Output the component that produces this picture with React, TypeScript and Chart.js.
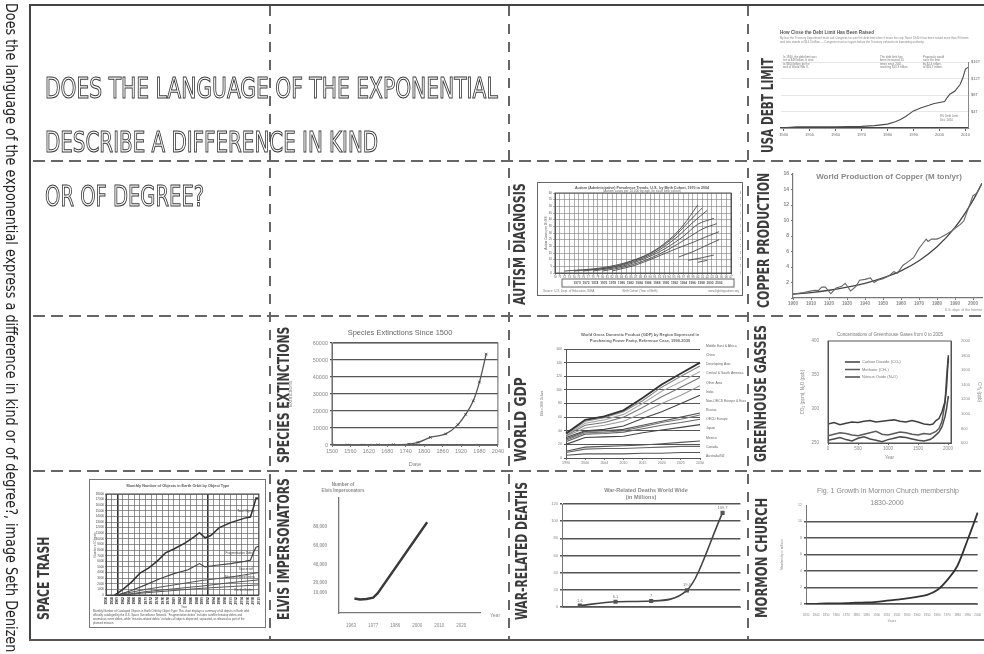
import React, { useEffect, useLayoutEffect, useRef } from 'react';
import { Chart, registerables } from 'chart.js';

Chart.register(...registerables);

const FONT = "'Liberation Sans', Arial, sans-serif";
const COND = "'Liberation Sans Narrow', 'DejaVu Sans Condensed', 'Roboto', 'Liberation Sans', sans-serif";
Chart.defaults.font.family = FONT;
Chart.defaults.color = '#777';

// ---------------- texts ----------------
const SIDE_TEXT = 'Does the language of the exponential express a difference in kind or of degree?, image Seth Denizen';
const HEADLINE = ['DOES THE LANGUAGE OF THE EXPONENTIAL', 'DESCRIBE A DIFFERENCE IN KIND', 'OR OF DEGREE?'];
const CELL_LABELS = ['USA DEBT LIMIT', 'COPPER PRODUCTION', 'AUTISM DIAGNOSIS', 'SPECIES EXTINCTIONS', 'WORLD GDP', 'GREENHOUSE GASSES', 'SPACE TRASH', 'ELVIS IMPERSONATORS', 'WAR-RELATED DEATHS', 'MORMON CHURCH'];

// ---------------- data ----------------
const DEBT_YEARS = [1940, 1945, 1950, 1955, 1960, 1965, 1970, 1975, 1980, 1983, 1985, 1987, 1990, 1993, 1996, 1998, 2002, 2003, 2004, 2006, 2008, 2009, 2010, 2011];
const DEBT_LIMIT = [0.049, 0.3, 0.275, 0.281, 0.295, 0.328, 0.395, 0.577, 0.935, 1.49, 2.079, 2.8, 4.145, 4.9, 5.5, 5.95, 6.4, 7.384, 8.184, 8.965, 10.615, 12.104, 14.294, 14.694];

const COPPER_YEARS = [1900, 1903, 1906, 1909, 1912, 1914, 1916, 1918, 1921, 1924, 1927, 1929, 1932, 1935, 1937, 1940, 1943, 1945, 1947, 1950, 1953, 1956, 1958, 1961, 1964, 1967, 1970, 1972, 1974, 1975, 1977, 1980, 1982, 1985, 1988, 1990, 1993, 1995, 1997, 2000, 2002, 2005];
const COPPER_ACTUAL = [0.5, 0.6, 0.7, 0.85, 1.0, 0.95, 1.4, 1.4, 0.55, 1.3, 1.5, 1.9, 0.9, 1.5, 2.3, 2.4, 2.6, 2.0, 2.3, 2.5, 2.8, 3.4, 3.2, 4.2, 4.7, 5.2, 6.4, 7.0, 7.6, 7.3, 7.6, 7.6, 7.8, 8.2, 8.6, 9.0, 9.5, 10.0, 11.3, 13.2, 13.5, 14.8];
const COPPER_TREND_YEARS = [1900, 1910, 1920, 1930, 1940, 1950, 1960, 1970, 1980, 1990, 2000, 2005];
const COPPER_TREND = [0.5, 0.7, 1.0, 1.4, 1.9, 2.6, 3.5, 4.8, 6.6, 9.1, 12.6, 14.8];

const AUTISM_COHORTS = [
  [[2, 0.3], [10, 0.8], [16, 1.8], [20, 3.0], [24, 5.0], [27, 7.2], [30, 10.2]],
  [[4, 0.3], [12, 0.9], [17, 2.0], [21, 3.3], [25, 5.4], [28, 7.6], [31, 9.8]],
  [[6, 0.3], [13, 1.0], [18, 2.1], [22, 3.5], [26, 5.6], [29, 7.6], [32, 9.4]],
  [[8, 0.3], [14, 1.0], [19, 2.2], [23, 3.6], [27, 5.5], [30, 7.3], [33.4, 8.2]],
  [[10, 0.3], [15, 1.0], [20, 2.2], [24, 3.6], [28, 5.3], [31, 6.6], [34, 7.4]],
  [[12, 0.3], [17, 1.2], [21, 2.3], [25, 3.5], [29, 4.6], [32, 5.5], [34.5, 6.2]],
  [[26, 2.4], [29, 3.2], [32, 4.2], [34.5, 5.0]],
  [[28, 1.9], [31, 2.3], [33.4, 2.7]],
  [[30, 1.6], [32, 1.9]],
];

const SPECIES_YEARS = [1500, 1550, 1600, 1650, 1700, 1750, 1780, 1820, 1870, 1910, 1935, 1960, 1980, 2002];
const SPECIES_COUNT = [0, 0, 0, 100, 200, 500, 1500, 4500, 6500, 12000, 18000, 26000, 37000, 53500];

const GDP_YEARS = ['1990', '2000', '2004', '2010', '2015', '2020', '2025', '2030'];
const GDP_REGIONS = ['Middle East & Africa', 'China', 'Developing Asia', 'Central & South America', 'Other Asia', 'India', 'Non-OECD Europe & Eurasia', 'Russia', 'OECD Europe', 'Japan', 'Mexico', 'Canada', 'Australia/NZ'];
const GDP_SERIES = [
  [36, 56, 61, 70, 88, 108, 124, 140],
  [35, 54, 59, 68, 84, 104, 120, 135],
  [34, 51, 56, 64, 80, 98, 112, 127],
  [33, 48, 52, 60, 74, 90, 104, 118],
  [32, 44, 48, 54, 66, 80, 92, 106],
  [30, 40, 42, 47, 58, 68, 80, 92],
  [28, 39, 40, 42, 48, 54, 60, 66],
  [26, 37, 38, 40, 46, 52, 57, 63],
  [24, 35, 36, 38, 43, 48, 52, 57],
  [20, 30, 31, 32, 37, 41, 45, 49],
  [10, 16, 17, 18, 19, 21, 23, 25],
  [8, 13, 14, 14, 15, 16, 17, 17],
  [4, 6, 6, 6, 7, 7, 8, 8],
];

const GHG_YEARS = [0, 100, 200, 300, 400, 500, 600, 700, 800, 900, 1000, 1100, 1200, 1300, 1400, 1500, 1600, 1700, 1750, 1800, 1850, 1900, 1950, 1975, 2000, 2005];
const GHG_CO2 = [278, 280, 277, 279, 281, 280, 282, 283, 281, 282, 283, 284, 282, 281, 283, 281, 278, 277, 278, 283, 286, 296, 311, 331, 369, 379];
const GHG_CH4 = [700, 720, 740, 730, 710, 700, 720, 740, 760, 720, 710, 730, 750, 740, 720, 710, 730, 720, 740, 760, 800, 900, 1150, 1480, 1750, 1775];
const GHG_N2O = [254, 256, 258, 255, 253, 257, 259, 256, 254, 252, 255, 257, 259, 258, 256, 254, 253, 255, 258, 262, 266, 274, 289, 300, 316, 319];
const GHG_X_TICKS = [0, 500, 1000, 1500, 2000];

const TRASH_TOTAL = [[1959, 0], [1960, 0.3], [1962, 1], [1965, 2.3], [1968, 3.9], [1971, 4.8], [1974, 6], [1977, 7.5], [1980, 8.2], [1984, 9.3], [1987, 10.3], [1989, 11.1], [1991, 10.2], [1993, 10.6], [1996, 12], [2000, 12.9], [2005, 13.7], [2007, 13.9], [2008, 15.5], [2009, 17.3], [2010, 17.2]];
const TRASH_FRAGMENTS = [[1960, 0], [1965, 0.8], [1970, 1.8], [1975, 2.9], [1980, 3.8], [1985, 4.5], [1989, 5.6], [1991, 5], [1995, 5.3], [2000, 5.6], [2005, 6], [2007, 6.2], [2008, 7.5], [2009, 8.5], [2010, 8.7]];
const TRASH_SPACECRAFT = [[1960, 0], [1970, 1], [1980, 1.8], [1990, 2.6], [2000, 3.2], [2010, 4]];
const TRASH_MISSION = [[1962, 0], [1970, 0.6], [1980, 1.1], [1990, 1.6], [2000, 2.2], [2010, 2.7]];
const TRASH_ROCKETS = [[1962, 0], [1970, 0.4], [1980, 0.8], [1990, 1.2], [2000, 1.5], [2010, 1.8]];

const ELVIS_X_LABELS = ['1963', '1977', '1986', '2000', '2010', '2020'];
const ELVIS_X = [0.15, 0.4, 0.7, 1.0, 1.2, 3.45];
const ELVIS_COUNT = [3500, 2500, 3000, 4500, 9000, 85000];
const ELVIS_Y_TICKS = [10000, 20000, 40000, 60000, 80000];

const WAR_PERIODS = ['1500-1599', '1600-1699', '1700-1799', '1800-1899', '1900-1999'];
const WAR_DEATHS = [1.6, 6.1, 7.0, 19.4, 109.7];

const MORMON_YEARS = ['1830', '1840', '1850', '1860', '1870', '1880', '1890', '1900', '1910', '1920', '1930', '1940', '1950', '1960', '1970', '1980', '1990', '2000'];
const MORMON_MEMBERS = [0.0003, 0.017, 0.06, 0.06, 0.09, 0.16, 0.19, 0.27, 0.4, 0.53, 0.67, 0.86, 1.11, 1.69, 2.93, 4.64, 7.76, 11.07];

// ---------------- helpers ----------------
const toXY = (xs: number[], ys: number[]) => xs.map((x, i) => ({ x, y: ys[i] }));
const pairs = (p: number[][]) => p.map(([x, y]) => ({ x, y }));
const W = (w: number) => (s: any) => { s.width = w; };
const H = (h: number) => (s: any) => { s.height = h; };
const f = (size: number, bold = false) => ({ size, weight: bold ? 'bold' : 'normal', family: FONT });

const notesPlugin = {
  id: 'notes',
  afterDraw(chart: any, _a: any, o: any) {
    const ctx = chart.ctx;
    const ox = o.ox || 0;
    const oy = o.oy || 0;
    const a = chart.chartArea;
    ctx.save();
    if (o.border) {
      ctx.strokeStyle = o.border;
      ctx.lineWidth = o.borderWidth || 1;
      ctx.strokeRect(a.left, a.top, a.right - a.left, a.bottom - a.top);
    }
    if (o.valueLabels) {
      const meta = chart.getDatasetMeta(0);
      const ds = chart.data.datasets[0].data;
      ctx.font = `${o.valueLabels.size}px ${FONT}`;
      ctx.fillStyle = o.valueLabels.color;
      ctx.textAlign = 'center';
      ctx.textBaseline = 'bottom';
      meta.data.forEach((p: any, i: number) => ctx.fillText(String(ds[i]), p.x, p.y - 3));
    }
    if (o.sideLegend) {
      const s = o.sideLegend;
      const n = chart.data.datasets.length;
      ctx.font = `${s.size}px ${FONT}`;
      ctx.fillStyle = s.color;
      ctx.textAlign = 'left';
      ctx.textBaseline = 'middle';
      chart.data.datasets.forEach((d: any, i: number) => {
        const y = s.top - oy + ((s.bottom - s.top) * i) / (n - 1);
        ctx.fillText(d.label, s.x - ox, y);
      });
    }
    if (o.insideLegend) {
      const s = o.insideLegend;
      chart.data.datasets.forEach((d: any, i: number) => {
        const y = s.y - oy + i * s.dy;
        ctx.strokeStyle = d.borderColor;
        ctx.lineWidth = d.borderWidth;
        ctx.beginPath();
        ctx.moveTo(s.x - ox, y);
        ctx.lineTo(s.x - ox + s.w, y);
        ctx.stroke();
        ctx.fillStyle = s.color;
        ctx.font = `${s.size}px ${FONT}`;
        ctx.textAlign = 'left';
        ctx.textBaseline = 'middle';
        ctx.fillText(d.label, s.x - ox + s.w + 2, y);
      });
    }
    for (const it of o.items || []) {
      if (it.rect) {
        ctx.strokeStyle = it.color || '#777';
        ctx.lineWidth = it.lw || 1;
        ctx.strokeRect(it.rect[0] - ox, it.rect[1] - oy, it.rect[2], it.rect[3]);
        continue;
      }
      ctx.save();
      ctx.font = `${it.bold ? 'bold ' : ''}${it.size || 5}px ${FONT}`;
      ctx.fillStyle = it.color || '#888';
      ctx.textAlign = it.align || 'center';
      ctx.textBaseline = 'middle';
      ctx.translate(it.x - ox, it.y - oy);
      if (it.rot) ctx.rotate((it.rot * Math.PI) / 180);
      ctx.fillText(it.text, 0, 0);
      ctx.restore();
    }
    ctx.restore();
  },
};

function Mini({ box, make }: { box: number[]; make: () => any }) {
  const ref = useRef<HTMLCanvasElement>(null);
  useEffect(() => {
    const cfg = make();
    cfg.options = cfg.options || {};
    cfg.options.responsive = false;
    cfg.options.animation = false;
    cfg.options.devicePixelRatio = 1;
    cfg.options.plugins = { legend: { display: false }, tooltip: { enabled: false }, ...(cfg.options.plugins || {}) };
    cfg.options.plugins.notes = { ...(cfg.options.plugins.notes || {}), ox: box[0], oy: box[1] };
    cfg.plugins = [notesPlugin];
    const c = new Chart(ref.current as HTMLCanvasElement, cfg);
    return () => c.destroy();
  }, []);
  return (
    <canvas
      ref={ref}
      width={box[2]}
      height={box[3]}
      style={{ position: 'absolute', left: box[0], top: box[1], width: box[2], height: box[3] }}
    />
  );
}

function Txt({ text, x, y, len, size, rot = 0, color = '#333', weight = 400, family = COND, stroke }: any) {
  const ref = useRef<HTMLSpanElement>(null);
  useLayoutEffect(() => {
    const el = ref.current;
    if (!el) return;
    const w = el.offsetWidth;
    if (w > 0) el.style.transform = `scaleX(${len / w})`;
  }, [len, text]);
  const base: any = {
    position: 'absolute', whiteSpace: 'nowrap', fontSize: size, lineHeight: `${size}px`, height: size,
    fontFamily: family, fontWeight: weight, color, transformOrigin: '0 0', willChange: 'transform', opacity: 0.999,
  };
  if (stroke) {
    base.color = '#fff';
    base.WebkitTextStroke = stroke;
  }
  const k = size * 0.49;
  let pos: any;
  if (rot === -90) pos = { left: x - k, top: y, transform: 'rotate(-90deg)' };
  else if (rot === 90) pos = { left: x + k, top: y, transform: 'rotate(90deg)' };
  else pos = { left: x, top: y - k, transform: 'translateZ(0)' };
  return (
    <div style={{ ...base, ...pos }}>
      <span ref={ref} style={{ display: 'inline-block', transformOrigin: '0 0' }}>{text}</span>
    </div>
  );
}

function Dash({ x, y, len, vertical }: any) {
  const st: any = vertical
    ? { left: x - 0.9, top: y, width: 1.8, height: len, backgroundImage: 'repeating-linear-gradient(to bottom, #666 0 10px, transparent 10px 18px)' }
    : { left: x, top: y - 0.9, width: len, height: 1.8, backgroundImage: 'repeating-linear-gradient(to right, #666 0 12px, transparent 12px 18px)' };
  return <div style={{ position: 'absolute', ...st }} />;
}

// ---------------- chart configs ----------------
const debtConfig = () => ({
  type: 'line',
  data: { datasets: [{ data: toXY(DEBT_YEARS, DEBT_LIMIT), borderColor: '#4a4a4a', borderWidth: 1.1, pointRadius: 0 }] },
  options: {
    layout: { padding: { left: 5, right: 2, top: 34, bottom: 0 } },
    scales: {
      x: {
        type: 'linear', min: 1939, max: 2011, afterFit: H(10),
        ticks: { stepSize: 10, includeBounds: false, font: f(4), color: '#666', maxRotation: 0, padding: 1, callback: (v: any) => String(v) },
        grid: { drawOnChartArea: false, tickLength: 3, color: '#666' }, border: { color: '#444', width: 1.5 },
      },
      y: {
        position: 'right', min: 0, max: 16, afterFit: W(14),
        ticks: { stepSize: 4, font: f(4), color: '#666', padding: 1, callback: (v: any) => (v ? '$' + v + 'T' : '') },
        grid: { color: '#e6e6e6', tickLength: 2 }, border: { color: '#888' },
      },
    },
    plugins: {
      notes: {
        items: [
          { x: 780, y: 33, text: 'How Close the Debt Limit Has Been Raised', size: 4.6, bold: true, align: 'left', color: '#555' },
          { x: 780, y: 38.5, text: 'By law, the Treasury Department must ask Congress to raise the debt limit when it nears the cap. Since 1940 it has been raised more than 90 times', size: 2.9, align: 'left', color: '#888' },
          { x: 780, y: 42.5, text: 'and now stands at $14.3 trillion \u2014 Congress must act again before the Treasury exhausts its borrowing authority.', size: 2.9, align: 'left', color: '#888' },
          { x: 783, y: 57, text: 'In 1940, the debt limit was', size: 2.9, align: 'left', color: '#777' },
          { x: 783, y: 60.5, text: 'set at $49 billion. It rose', size: 2.9, align: 'left', color: '#777' },
          { x: 783, y: 64, text: 'to $300 billion by the', size: 2.9, align: 'left', color: '#777' },
          { x: 783, y: 67.5, text: 'end of World War II.', size: 2.9, align: 'left', color: '#777' },
          { x: 880, y: 57, text: 'The debt limit has', size: 2.9, align: 'left', color: '#777' },
          { x: 880, y: 60.5, text: 'been increased 10', size: 2.9, align: 'left', color: '#777' },
          { x: 880, y: 64, text: 'times since 2001,', size: 2.9, align: 'left', color: '#777' },
          { x: 880, y: 67.5, text: 'reaching $14.3 trillion.', size: 2.9, align: 'left', color: '#777' },
          { x: 923, y: 57, text: 'Proposals would', size: 2.9, align: 'left', color: '#777' },
          { x: 923, y: 60.5, text: 'raise the limit', size: 2.9, align: 'left', color: '#777' },
          { x: 923, y: 64, text: 'by $2.4 trillion,', size: 2.9, align: 'left', color: '#777' },
          { x: 923, y: 67.5, text: 'to $16.7 trillion.', size: 2.9, align: 'left', color: '#777' },
          { x: 940, y: 116, text: '8% Debt Limit', size: 2.9, align: 'left', color: '#777' },
          { x: 940, y: 120, text: 'Dec. 2010', size: 2.9, align: 'left', color: '#777' },
        ],
      },
    },
  },
});

const copperConfig = () => ({
  type: 'line',
  data: {
    datasets: [
      { data: toXY(COPPER_YEARS, COPPER_ACTUAL), borderColor: '#666', borderWidth: 1.1, pointRadius: 0 },
      { data: toXY(COPPER_TREND_YEARS, COPPER_TREND), borderColor: '#444', borderWidth: 1.3, pointRadius: 0, cubicInterpolationMode: 'monotone' },
    ],
  },
  options: {
    layout: { padding: { left: 0, right: 2, top: 8, bottom: 0 } },
    scales: {
      x: {
        type: 'linear', min: 1900, max: 2005, afterFit: H(16),
        ticks: { stepSize: 10, includeBounds: false, autoSkip: false, font: f(4.5, true), color: '#888', maxRotation: 0, padding: 1, callback: (v: any) => String(v) },
        grid: { drawOnChartArea: false, tickLength: 2, color: '#777' }, border: { color: '#777', width: 1.2 },
      },
      y: {
        min: 0, max: 16, afterFit: W(17),
        ticks: { stepSize: 2, font: f(5, true), color: '#888', padding: 2, callback: (v: any) => (v ? String(v) : '') },
        grid: { drawOnChartArea: false, tickLength: 2, color: '#777' }, border: { color: '#777', width: 1.2 },
      },
    },
    plugins: {
      notes: {
        items: [
          { x: 889, y: 177, text: 'World Production of Copper (M ton/yr)', size: 8, bold: true, color: '#888' },
          { x: 982, y: 310.5, text: 'U.S. dept. of the Interior', size: 3.5, align: 'right', color: '#888' },
        ],
      },
    },
  },
});

const autismConfig = () => ({
  type: 'line',
  data: {
    datasets: AUTISM_COHORTS.map((c) => ({ data: pairs(c), borderColor: '#4a4a4a', borderWidth: 0.9, pointRadius: 0, cubicInterpolationMode: 'monotone' })),
  },
  options: {
    layout: { padding: { left: 0, right: 1, top: 8, bottom: 0 } },
    scales: {
      x: {
        type: 'linear', min: 0, max: 37, afterFit: H(22),
        ticks: { stepSize: 1, autoSkip: false, font: f(2.8), color: '#555', maxRotation: 0, padding: 1, callback: (v: any) => String((70 + v) % 100).padStart(2, '0') },
        grid: { color: '#7a7a7a', lineWidth: 0.6, tickLength: 2 }, border: { color: '#555' },
      },
      y: {
        min: 0, max: 12, afterFit: W(15),
        ticks: { stepSize: 1, autoSkip: false, font: f(3), color: '#555', padding: 1, callback: (v: any) => String(v * 5) },
        grid: { color: '#7a7a7a', lineWidth: 0.6, tickLength: 2 }, border: { color: '#555' },
      },
      y2: {
        position: 'right', min: 0, max: 12, afterFit: W(10),
        ticks: { stepSize: 1, autoSkip: false, font: f(3), color: '#555', padding: 1, callback: (v: any) => String(v * 5) },
        grid: { display: false }, border: { color: '#555' },
      },
    },
    plugins: {
      notes: {
        border: '#555',
        items: [
          { x: 642, y: 187.5, text: 'Autism (Administrative) Prevalence Trends, U.S., by Birth Cohort, 1970 to 2004', size: 3.6, bold: true, color: '#555' },
          { x: 642, y: 191.5, text: '(Autism cases per 10,000 by age, for each birth cohort)', size: 3.2, color: '#666' },
          { x: 546, y: 233, text: 'Autism Cases per 10,000', size: 3, rot: -90, color: '#666' },
          { rect: [562, 279, 172, 8], color: '#666', lw: 1 },
          { x: 648, y: 283, text: '1970  1972  1974  1976  1978  1980  1982  1984  1986  1988  1990  1992  1994  1996  1998  2000  2002', size: 3.2, bold: true, color: '#555' },
          { x: 543, y: 291, text: 'Source: U.S. Dept. of Education, IDEA', size: 3, align: 'left', color: '#777' },
          { x: 640, y: 291, text: 'Birth Cohort (Year of Birth)', size: 3, color: '#777' },
          { x: 739, y: 291, text: 'www.fightingautism.org', size: 3, align: 'right', color: '#777' },
        ],
      },
    },
  },
});

const speciesConfig = () => ({
  type: 'line',
  data: {
    datasets: [{
      data: toXY(SPECIES_YEARS, SPECIES_COUNT), borderColor: '#555', borderWidth: 1.3, cubicInterpolationMode: 'monotone',
      pointStyle: 'crossRot', pointRadius: 1.8, pointBorderColor: '#333', pointBorderWidth: 0.8,
    }],
  },
  options: {
    layout: { padding: { left: 0, right: 3, top: 21, bottom: 0 } },
    scales: {
      x: {
        type: 'linear', min: 1500, max: 2040, afterFit: H(23),
        ticks: { stepSize: 60, autoSkip: false, font: f(5.5), color: '#888', maxRotation: 0, padding: 1, callback: (v: any) => String(v) },
        grid: { drawOnChartArea: false, tickLength: 2, color: '#777' }, border: { color: '#777' },
        title: { display: true, text: 'Date', font: f(6), color: '#888', padding: 0 },
      },
      y: {
        min: 0, max: 60000, afterFit: W(45),
        ticks: { stepSize: 10000, font: f(5.5), color: '#888', padding: 2, callback: (v: any) => String(v) },
        grid: { color: '#555', lineWidth: 1.3, tickLength: 2 }, border: { color: '#777' },
        title: { display: true, text: 'Extinctions', font: f(5.5), color: '#888', padding: 0 },
      },
    },
    plugins: { notes: { border: '#666', items: [{ x: 400, y: 333, text: 'Species Extinctions Since 1500', size: 7.5, color: '#666' }] } },
  },
});

const GDP_COLORS = ['#333', '#888', '#aaa', '#777', '#999', '#444', '#555', '#777', '#666', '#444', '#555', '#666', '#555'];
const gdpConfig = () => ({
  type: 'line',
  data: {
    labels: GDP_YEARS,
    datasets: GDP_SERIES.map((s, i) => ({ label: GDP_REGIONS[i], data: s, borderColor: GDP_COLORS[i], borderWidth: i === 0 ? 1.8 : 1.1, pointRadius: 0 })),
  },
  options: {
    layout: { padding: { left: 0, right: 46, top: 21, bottom: 0 } },
    scales: {
      x: {
        offset: false, afterFit: H(12),
        ticks: { font: f(3.5), color: '#777', maxRotation: 0, autoSkip: false, padding: 1 },
        grid: { drawOnChartArea: false, tickLength: 2, color: '#777' }, border: { color: '#555' },
      },
      y: {
        min: 0, max: 160, afterFit: W(26),
        ticks: { stepSize: 20, font: f(3.5), color: '#777', padding: 2 },
        grid: { color: '#555', lineWidth: 1, tickLength: 2 }, border: { color: '#555' },
        title: { display: true, text: 'Billion 2000 Dollars', font: f(3), color: '#777', padding: 0 },
      },
    },
    plugins: {
      notes: {
        sideLegend: { x: 706, top: 346, bottom: 456, size: 3.4, color: '#666' },
        items: [
          { x: 640, y: 334.5, text: 'World Gross Domestic Product (GDP) by Region Expressed in', size: 4, bold: true, color: '#666' },
          { x: 640, y: 340.5, text: 'Purchasing Power Parity, Reference Case, 1990-2030', size: 4, bold: true, color: '#666' },
        ],
      },
    },
  },
});

const ghgConfig = () => ({
  type: 'line',
  data: {
    datasets: [
      { label: 'Carbon Dioxide (CO\u2082)', data: toXY(GHG_YEARS, GHG_CO2), borderColor: '#3f3f3f', borderWidth: 1.5, pointRadius: 0, yAxisID: 'y' },
      { label: 'Methane (CH\u2084)', data: toXY(GHG_YEARS, GHG_CH4), borderColor: '#5a5a5a', borderWidth: 1.5, pointRadius: 0, yAxisID: 'y1' },
      { label: 'Nitrous Oxide (N\u2082O)', data: toXY(GHG_YEARS, GHG_N2O), borderColor: '#4a4a4a', borderWidth: 1.5, pointRadius: 0, yAxisID: 'y' },
    ],
  },
  options: {
    layout: { padding: { left: 0, right: 0, top: 13, bottom: 0 } },
    scales: {
      x: {
        type: 'linear', min: 0, max: 2050, afterFit: H(17),
        afterBuildTicks: (s: any) => { s.ticks = GHG_X_TICKS.map((v) => ({ value: v })); },
        ticks: { font: f(4.5), color: '#888', maxRotation: 0, padding: 1, callback: (v: any) => String(v) },
        grid: { drawOnChartArea: false, tickLength: 2, color: '#777' }, border: { color: '#555' },
        title: { display: true, text: 'Year', font: f(4.5), color: '#888', padding: 0 },
      },
      y: {
        min: 250, max: 400, afterFit: W(28),
        ticks: { stepSize: 50, font: f(4.5), color: '#888', padding: 1 },
        grid: { display: false }, border: { color: '#555' },
        title: { display: true, text: 'CO\u2082 (ppm), N\u2082O (ppb)', font: f(4.5), color: '#888', padding: 0 },
      },
      y1: {
        position: 'right', min: 600, max: 2000, afterFit: W(31),
        ticks: { stepSize: 200, font: f(4), color: '#888', padding: 2, callback: (v: any) => String(v) },
        grid: { display: false }, border: { color: '#555' },
        title: { display: true, text: 'CH\u2084 (ppb)', font: f(4.5), color: '#888', padding: 0 },
      },
    },
    plugins: {
      notes: {
        border: '#555',
        insideLegend: { x: 845, y: 362, dy: 7.5, w: 15, size: 4, color: '#777' },
        items: [{ x: 890, y: 335, text: 'Concentrations of Greenhouse Gases from 0 to 2005', size: 4.5, color: '#777' }],
      },
    },
  },
});

const trashConfig = () => ({
  type: 'line',
  data: {
    datasets: [
      { data: pairs(TRASH_TOTAL), borderColor: '#333', borderWidth: 1.5, pointRadius: 0 },
      { data: pairs(TRASH_FRAGMENTS), borderColor: '#444', borderWidth: 1.2, pointRadius: 0 },
      { data: pairs(TRASH_SPACECRAFT), borderColor: '#555', borderWidth: 1, pointRadius: 0 },
      { data: pairs(TRASH_MISSION), borderColor: '#555', borderWidth: 1, pointRadius: 0 },
      { data: pairs(TRASH_ROCKETS), borderColor: '#555', borderWidth: 1, pointRadius: 0 },
    ],
  },
  options: {
    layout: { padding: { left: 0, right: 2, top: 12, bottom: 0 } },
    scales: {
      x: {
        type: 'linear', min: 1956, max: 2010, afterFit: H(31),
        ticks: { stepSize: 2, autoSkip: false, font: f(3.4, true), color: '#222', minRotation: 90, maxRotation: 90, padding: 1, callback: (v: any) => String(v) },
        grid: { color: (c: any) => (c.tick && (c.tick.value === 1960 || c.tick.value === 1992) ? '#333' : '#666'), lineWidth: (c: any) => (c.tick && (c.tick.value === 1960 || c.tick.value === 1992) ? 1.6 : 0.7), tickLength: 1 },
        border: { color: '#444' },
      },
      y: {
        min: 0, max: 18, afterFit: W(14),
        ticks: { stepSize: 1, autoSkip: false, font: f(3), color: '#444', padding: 1, callback: (v: any) => String(v * 1000) },
        grid: { color: '#666', lineWidth: 0.7, tickLength: 1 }, border: { color: '#444' },
      },
    },
    plugins: {
      notes: {
        border: '#444',
        items: [
          { x: 178, y: 486, text: 'Monthly Number of Objects in Earth Orbit by Object Type', size: 3.8, bold: true, color: '#555' },
          { x: 95.5, y: 545, text: 'Number of Objects', size: 3, rot: -90, color: '#666' },
          { x: 184, y: 607, text: 'Year', size: 3, color: '#555' },
          { x: 246, y: 511, text: 'Total Objects', size: 3, color: '#444' },
          { x: 240, y: 553, text: 'Fragmentation Debris', size: 3, color: '#444' },
          { x: 246, y: 569, text: 'Spacecraft', size: 3, color: '#444' },
          { x: 240, y: 577, text: 'Mission-related Debris', size: 3, color: '#444' },
          { x: 244, y: 590, text: 'Rocket Bodies', size: 3, color: '#444' },
          { x: 93, y: 611, text: 'Monthly Number of Cataloged Objects in Earth Orbit by Object Type: This chart displays a summary of all objects in Earth orbit', size: 2.8, align: 'left', color: '#555' },
          { x: 93, y: 615, text: 'officially cataloged by the U.S. Space Surveillance Network. "Fragmentation debris" includes satellite breakup debris and', size: 2.8, align: 'left', color: '#555' },
          { x: 93, y: 619, text: 'anomalous event debris, while "mission-related debris" includes all objects dispersed, separated, or released as part of the', size: 2.8, align: 'left', color: '#555' },
          { x: 93, y: 623, text: 'planned mission.', size: 2.8, align: 'left', color: '#555' },
        ],
      },
    },
  },
});

const elvisConfig = () => ({
  type: 'line',
  data: { datasets: [{ data: toXY(ELVIS_X, ELVIS_COUNT), borderColor: '#3a3a3a', borderWidth: 2.4, pointRadius: 0 }] },
  options: {
    layout: { padding: { left: 0, right: 25, top: 20, bottom: 0 } },
    scales: {
      x: {
        type: 'linear', min: -0.55, max: 5.85, afterFit: H(15),
        ticks: { stepSize: 1, includeBounds: false, font: f(4.5), color: '#888', maxRotation: 0, padding: 2, callback: (v: any) => ELVIS_X_LABELS[v] ?? '' },
        grid: { display: false }, border: { color: '#777', width: 1.3 },
      },
      y: {
        min: -12000, max: 111000, afterFit: W(39),
        afterBuildTicks: (s: any) => { s.ticks = ELVIS_Y_TICKS.map((v) => ({ value: v })); },
        ticks: { font: f(4.5, true), color: '#999', padding: 4, callback: (v: any) => Number(v).toLocaleString('en-US') },
        grid: { display: false }, border: { color: '#777', width: 1.3 },
      },
    },
    plugins: {
      notes: {
        items: [
          { x: 343, y: 485, text: 'Number of', size: 4.5, bold: true, color: '#888' },
          { x: 343, y: 491, text: 'Elvis Impersonators', size: 4.5, bold: true, color: '#888' },
          { x: 495, y: 616, text: 'Year', size: 5, color: '#888' },
        ],
      },
    },
  },
});

const warConfig = () => ({
  type: 'line',
  data: {
    labels: WAR_PERIODS,
    datasets: [{
      data: WAR_DEATHS, borderColor: '#444', borderWidth: 1.6, cubicInterpolationMode: 'monotone',
      pointStyle: 'rect', pointRadius: 1.8, pointBackgroundColor: '#555', pointBorderColor: '#555',
    }],
  },
  options: {
    layout: { padding: { left: 0, right: 4, top: 21, bottom: 0 } },
    scales: {
      x: {
        offset: true, afterFit: H(8),
        ticks: { font: f(4), color: '#888', maxRotation: 0, autoSkip: false, padding: 1 },
        grid: { display: false }, border: { color: '#777' },
      },
      y: {
        min: 0, max: 120, afterFit: W(22),
        ticks: { stepSize: 20, font: f(4), color: '#888', padding: 2 },
        grid: { color: '#555', lineWidth: 1.4, tickLength: 2 }, border: { color: '#777' },
      },
    },
    plugins: {
      notes: {
        valueLabels: { size: 4, color: '#777' },
        items: [
          { x: 646, y: 490, text: 'War-Related Deaths World Wide', size: 5.5, bold: true, color: '#888' },
          { x: 641, y: 497, text: '(in Millions)', size: 5.5, bold: true, color: '#888' },
        ],
      },
    },
  },
});

const mormonConfig = () => ({
  type: 'line',
  data: {
    labels: MORMON_YEARS,
    datasets: [{ data: MORMON_MEMBERS, borderColor: '#333', borderWidth: 1.8, pointRadius: 0, cubicInterpolationMode: 'monotone' }],
  },
  options: {
    layout: { padding: { left: 0, right: 4, top: 22, bottom: 0 } },
    scales: {
      x: {
        offset: false, afterFit: H(19),
        ticks: { font: f(3), color: '#888', maxRotation: 0, autoSkip: false, padding: 1 },
        grid: { display: false }, border: { color: '#777' },
        title: { display: true, text: 'Years', font: f(3.5), color: '#888', padding: 0 },
      },
      y: {
        min: 0, max: 12, afterFit: W(26),
        ticks: { stepSize: 2, font: f(3.5), color: '#888', padding: 2 },
        grid: { color: (c: any) => (c.tick && c.tick.value === 12 ? 'rgba(0,0,0,0)' : '#555'), lineWidth: 1.4, tickLength: 2 },
        border: { color: '#777' },
        title: { display: true, text: 'Membership in millions', font: f(3), color: '#888', padding: 0 },
      },
    },
    plugins: {
      notes: {
        items: [
          { x: 888, y: 491, text: 'Fig. 1 Growth in Mormon Church membership', size: 7, color: '#888' },
          { x: 887, y: 503, text: '1830-2000', size: 7, color: '#888' },
        ],
      },
    },
  },
});

// ---------------- layout (positions only) ----------------
const LABEL_POS = [
  [767.5, 153, 95], [764, 308, 135], [519.5, 305, 122], [283.5, 463, 136], [521, 462, 85],
  [760.5, 462, 137], [44, 620, 83], [284, 620, 142], [521.5, 620, 138], [761.5, 618, 120],
];
const HEAD_POS = [[45, 89, 453], [45, 143, 333], [45, 197, 159]];

export default function App() {
  return (
    <div style={{ position: 'fixed', left: 0, top: 0, width: 984, height: 654, background: '#fff', overflow: 'hidden' }}>
      {/* frame */}
      <div style={{ position: 'absolute', left: 29, top: 4, width: 955, height: 2, background: '#444' }} />
      <div style={{ position: 'absolute', left: 29, top: 4, width: 2, height: 637, background: '#444' }} />
      <div style={{ position: 'absolute', left: 29, top: 639, width: 955, height: 2, background: '#555' }} />
      {/* dashed grid */}
      <Dash x={270} y={6} len={633} vertical />
      <Dash x={509} y={6} len={633} vertical />
      <Dash x={748} y={6} len={633} vertical />
      <Dash x={33} y={161} len={951} />
      <Dash x={33} y={316} len={951} />
      <Dash x={33} y={471} len={951} />

      {/* side caption */}
      <Txt text={SIDE_TEXT} x={11} y={3} len={649} size={15} rot={90} color="#222" />

      {/* headline */}
      {HEADLINE.map((t, i) => (
        <Txt key={t} text={t} x={HEAD_POS[i][0]} y={HEAD_POS[i][1]} len={HEAD_POS[i][2]} size={28} color="#fff" stroke="1px #3a3a3a" />
      ))}

      {/* cell labels */}
      {CELL_LABELS.map((t, i) => (
        <Txt key={t} text={t} x={LABEL_POS[i][0]} y={LABEL_POS[i][1]} len={LABEL_POS[i][2]} size={16} rot={-90} color="#3a3a3a" weight={700} />
      ))}

      {/* image frames */}
      <div style={{ position: 'absolute', left: 537, top: 182, width: 206, height: 114, border: '1.3px solid #666', boxSizing: 'border-box' }} />
      <div style={{ position: 'absolute', left: 89, top: 479, width: 177, height: 149, border: '1.5px solid #777', boxSizing: 'border-box' }} />

      <Mini box={[776, 28, 208, 110]} make={debtConfig} />
      <Mini box={[776, 166, 208, 148]} make={copperConfig} />
      <Mini box={[540, 185, 202, 110]} make={autismConfig} />
      <Mini box={[287, 322, 218, 146]} make={speciesConfig} />
      <Mini box={[540, 328, 206, 142]} make={gdpConfig} />
      <Mini box={[800, 328, 182, 132]} make={ghgConfig} />
      <Mini box={[92, 482, 172, 144]} make={trashConfig} />
      <Mini box={[300, 478, 205, 150]} make={elvisConfig} />
      <Mini box={[540, 483, 206, 132]} make={warConfig} />
      <Mini box={[780, 483, 202, 140]} make={mormonConfig} />
    </div>
  );
}
